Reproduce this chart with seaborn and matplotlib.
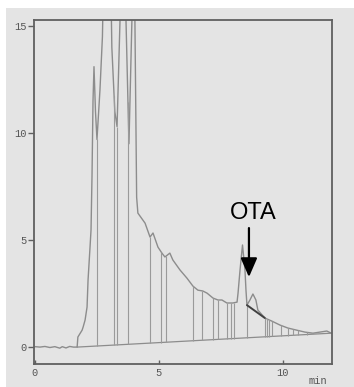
import numpy as np
import pandas as pd
import matplotlib
matplotlib.use("Agg")
import matplotlib.pyplot as plt
from matplotlib.patches import Rectangle
import seaborn as sns

# Chromatogram trace: retention time (min) and detector signal
time = [0.00, 0.20, 0.40, 0.60, 0.80, 1.00, 1.10, 1.25, 1.40, 1.55, 1.70,
        1.73, 1.90, 1.94, 2.02, 2.10, 2.14, 2.22, 2.26, 2.30, 2.34, 2.38,
        2.44, 2.50, 2.62, 2.72, 2.76, 2.92, 3.06, 3.10, 3.22, 3.31,
        3.43, 3.57, 3.67, 3.79, 3.91, 3.97, 4.03, 4.10, 4.15,
        4.44, 4.64, 4.76, 4.96, 5.12, 5.24, 5.44, 5.56, 5.85, 6.13, 6.37,
        6.57, 6.77, 6.94, 7.18, 7.38, 7.54, 7.74, 7.98, 8.15,
        8.19, 8.27, 8.37, 8.47, 8.51, 8.55, 8.67, 8.79, 8.91, 8.99,
        9.27, 9.56, 9.88, 10.20, 10.56, 10.89, 11.21, 11.49, 11.77, 11.95]
signal = [0.02, 0.00, 0.03, -0.02, 0.02, -0.05, 0.02, -0.04, 0.03, 0.00, 0.00,
          0.47, 0.79, 0.93, 1.26, 1.87, 3.13, 4.67, 5.47, 8.00, 11.50, 13.10,
          11.00, 9.70, 12.00, 14.50, 17.00, 30.00, 17.00, 14.00, 11.00, 10.30,
          15.30, 30.00, 15.30, 9.50, 15.30, 30.00, 15.30, 7.00, 6.26,
          5.79, 5.14, 5.33, 4.67, 4.39, 4.21, 4.39, 4.07, 3.60, 3.22, 2.85,
          2.66, 2.62, 2.52, 2.29, 2.20, 2.20, 2.06, 2.06, 2.10,
          2.52, 3.60, 4.77, 3.60, 2.66, 1.96, 2.20, 2.48, 2.20, 1.73,
          1.36, 1.21, 1.03, 0.89, 0.79, 0.70, 0.65, 0.70, 0.75, 0.65]

# Integration baseline end points
baseline_t = [1.70, 11.95]
baseline_s = [0.00, 0.65]

# Peak boundary drop lines (min)
drop_times = [2.50, 3.19, 3.31, 3.75, 4.64, 5.08, 5.28, 6.37, 6.73, 7.18,
              7.38, 7.74, 7.90, 8.02, 8.55, 9.27, 9.35, 9.44, 9.56, 9.92,
              10.20, 10.40, 10.60, 10.97, 11.17]

# Tangent skim under the trailing shoulder
skim_t = [8.55, 9.27]
skim_s = [1.96, 1.36]

x_ticks = [0, 5, 10]
y_ticks = [0, 5, 10, 15]

sns.set_style("white")
bg = "#e4e4e4"

fig = plt.figure(figsize=(3.54, 3.87), dpi=100)
fig.patch.set_facecolor("white")
fig.patches.append(Rectangle((6 / 354, 0), 1, 1 - 8 / 387,
                             transform=fig.transFigure, facecolor=bg,
                             edgecolor="none", zorder=-10))
ax = fig.add_axes([34 / 354, 23 / 387, 298 / 354, 344 / 387])
ax.set_facecolor(bg)

trace = pd.DataFrame({"time": time, "signal": signal})
sns.lineplot(data=trace, x="time", y="signal", sort=False, estimator=None,
             color="#8c8c8c", linewidth=1.0, ax=ax)

# baseline and drop lines
ax.plot(baseline_t, baseline_s, color="#8c8c8c", linewidth=0.9)
dt = np.array(drop_times)
tops = np.interp(dt, time, signal)
bottoms = np.interp(dt, baseline_t, baseline_s)
ax.vlines(dt, bottoms, tops, color="#9a9a9a", linewidth=0.8)
ax.plot(skim_t, skim_s, color="#404040", linewidth=1.4)

# OTA annotation
ax.annotate("", xy=(8.63, 3.27), xytext=(8.63, 5.56),
            arrowprops=dict(arrowstyle="-|>,head_length=1.15,head_width=0.5",
                            color="black", linewidth=1.6,
                            shrinkA=0, shrinkB=0))
ax.text(8.79, 6.26, "OTA", ha="center", va="center", fontsize=17,
        family="Liberation Sans", color="black")

ax.set_xlim(-0.04, 11.98)
ax.set_ylim(-0.79, 15.28)
ax.set_xticks(x_ticks)
ax.set_yticks(y_ticks)
ax.set_xlabel("")
ax.set_ylabel("")
for s in ax.spines.values():
    s.set_color("#606060")
    s.set_linewidth(1.3)
ax.tick_params(axis="y", direction="out", length=4, width=1, color="#606060",
               pad=1, labelsize=7.5, labelcolor="#555555", left=True)
ax.tick_params(axis="x", direction="in", length=3, width=1, color="#606060",
               pad=3, labelsize=7.5, labelcolor="#555555", bottom=True)
for lab in ax.get_xticklabels() + ax.get_yticklabels():
    lab.set_family("Liberation Mono")

fig.text(318 / 354, 1 - 381 / 387, "min", ha="center", va="center",
         fontsize=7.5, family="Liberation Mono", color="#555555")

fig.savefig("out.png", dpi=100, facecolor=fig.get_facecolor())
